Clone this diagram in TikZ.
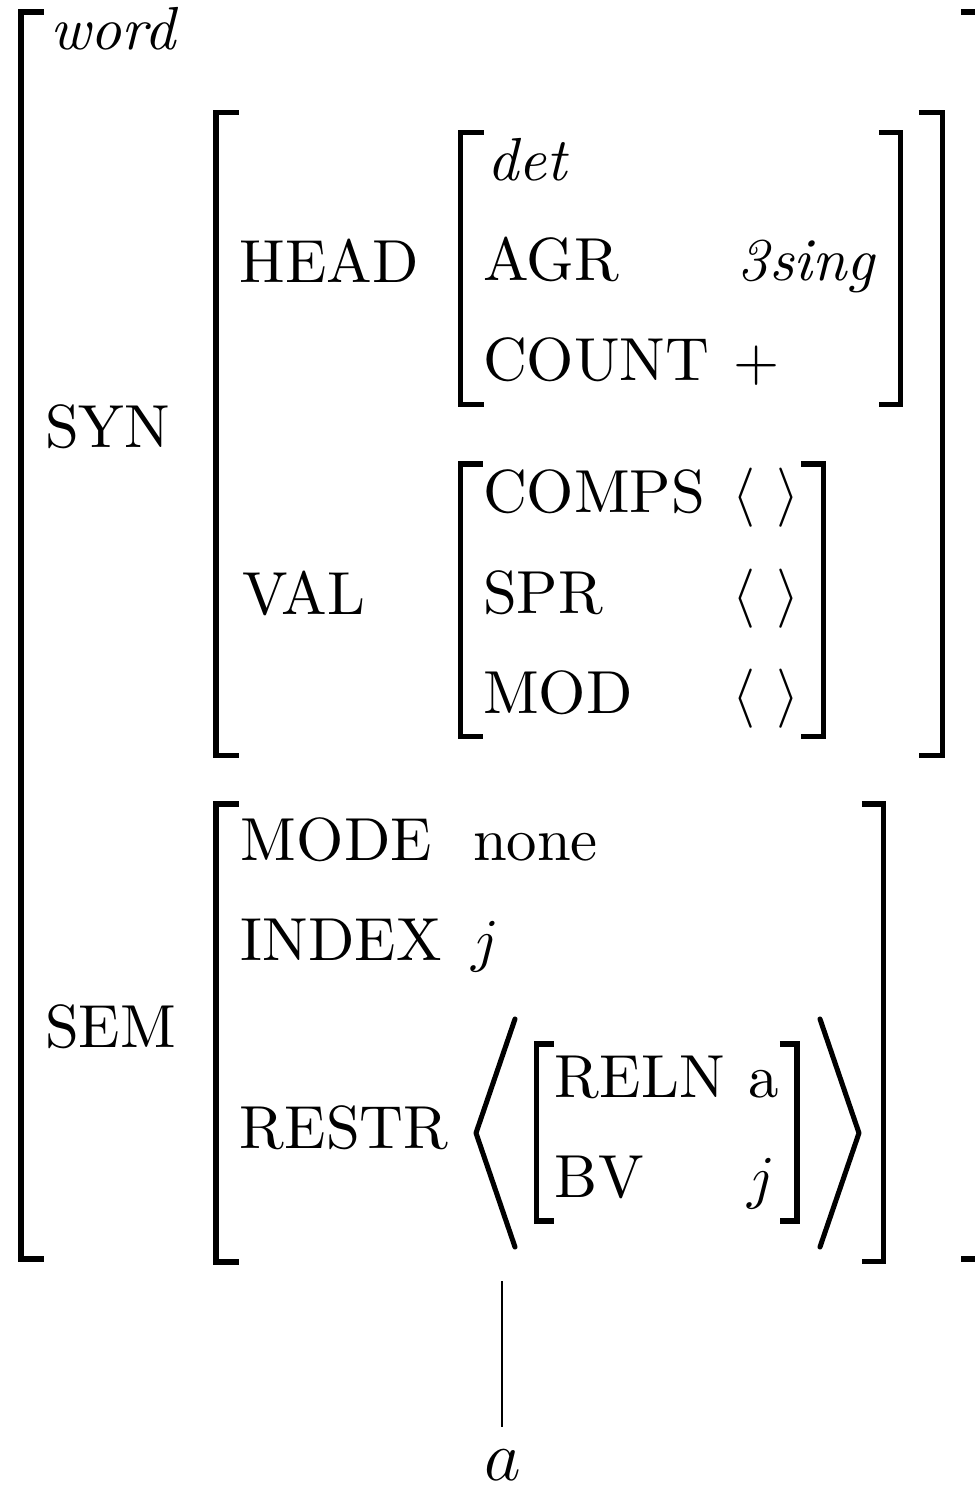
\documentclass[tikz,border=0pt]{standalone}
\begin{document}
\begin{tikzpicture}[x=0.16863pt,y=-0.16863pt,
  lbl/.style={inner sep=0pt,outer sep=0pt,anchor=base west,font=\fontsize{10.25pt}{12pt}\selectfont},
  brk/.style={line width=0.92pt,line cap=butt,line join=miter},
  ang/.style={line width=0.85pt,line cap=round,line join=round}]
\useasboundingbox (0,0) rectangle (974,1488);
% outer brackets
\draw[brk] (44,12) -- (21,12) -- (21,1259) -- (44,1259);
\draw[brk] (961,12) -- (988,12) -- (988,1259) -- (961,1259);
% SYN brackets
\draw[brk] (239,112.5) -- (216,112.5) -- (216,755.5) -- (239,755.5);
\draw[brk] (919,112.5) -- (942.5,112.5) -- (942.5,755.5) -- (919,755.5);
% HEAD brackets
\draw[brk] (484,132.5) -- (460.5,132.5) -- (460.5,404.5) -- (484,404.5);
\draw[brk] (879,132.5) -- (900.5,132.5) -- (900.5,404.5) -- (879,404.5);
% VAL brackets
\draw[brk] (483,464) -- (460.5,464) -- (460.5,736.5) -- (483,736.5);
\draw[brk] (801,464) -- (823.5,464) -- (823.5,736.5) -- (801,736.5);
% SEM brackets
\draw[brk] (239,804) -- (216,804) -- (216,1262) -- (239,1262);
\draw[brk] (862,804) -- (883.5,804) -- (883.5,1261.5) -- (862,1261.5);
% RESTR list angles
\draw[ang] (515,1019) -- (476,1133) -- (515,1247);
\draw[ang] (820,1019) -- (859,1133) -- (820,1247);
% RELN brackets
\draw[brk] (554,1044) -- (536.5,1044) -- (536.5,1221) -- (554,1221);
\draw[brk] (780,1044) -- (797,1044) -- (797,1221) -- (780,1221);
% texts
\node[lbl] (word) at (50,49) {\textit{word}};
\node[lbl] (syn) at (45,447) {SYN};
\node[lbl] (head) at (240,282) {HEAD};
\node[lbl] (det) at (487,180) {\textit{det}};
\node[lbl] (agr) at (483,280) {AGR};
\node[lbl] (agrv) at (738,280) {\textit{3sing}};
\node[lbl] (count) at (483,380) {COUNT};
\node[lbl] (countv) at (734,380) {$+$};
\node[lbl] (val) at (243,614) {VAL};
\node[lbl] (comps) at (483,512) {COMPS};
\node[lbl] (compsv) at (733,512) {$\langle\ \rangle$};
\node[lbl] (spr) at (483,613) {SPR};
\node[lbl] (sprv) at (733,613) {$\langle\ \rangle$};
\node[lbl] (mod) at (483,713) {MOD};
\node[lbl] (modv) at (733,713) {$\langle\ \rangle$};
\node[lbl] (sem) at (45,1047) {SEM};
\node[lbl] (mode) at (241,860) {MODE};
\node[lbl] (modev) at (473,860) {none};
\node[lbl] (index) at (241,960) {INDEX};
\node[lbl] (indexv) at (471,960) {$j$};
\node[lbl] (restr) at (240,1148) {RESTR};
\node[lbl] (reln) at (555,1097) {RELN};
\node[lbl] (relnv) at (748,1097) {a};
\node[lbl] (bv) at (555,1197) {BV};
\node[lbl] (bvv) at (747,1197) {$j$};
\node[inner sep=0pt,outer sep=0pt,anchor=base,font=\fontsize{12.3pt}{14pt}\selectfont] (leaf) at (503,1480) {$a$};
% stem
\coordinate (stemtop) at (502,1281);
\coordinate (stembot) at (502,1427);
\draw[line width=0.4pt] (stemtop) -- (stembot);
\end{tikzpicture}
\end{document}
